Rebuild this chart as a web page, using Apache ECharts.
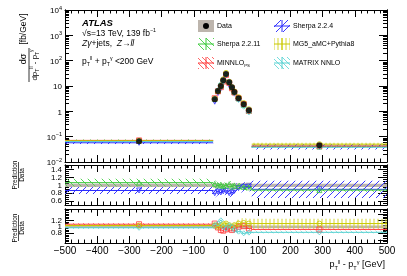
<!DOCTYPE html>
<html><head><meta charset="utf-8">
<script src="https://cdn.jsdelivr.net/npm/echarts@6/dist/echarts.min.js"></script>
<style>html,body{margin:0;padding:0;background:#fff}#c{width:407px;height:276px}</style>
</head><body><div id="c"></div>
<script>
// ---------------- data ----------------
const binEdges   = [-500, -40, -30, -20, -12, -5, 5, 15, 22, 30, 48, 62, 80, 500];
const dataValues = [0.066, 3.0, 6.3, 10, 17, 30, 14, 9.0, 5.8, 3.3, 1.9, 1.1, 0.046];
const dataRelErr = [0.04, 0.06, 0.05, 0.05, 0.05, 0.04, 0.05, 0.05, 0.05, 0.05, 0.06, 0.07, 0.04];

const sherpa224Ratio  = [0.87, 0.80, 0.84, 0.82, 0.85, 0.86, 0.80, 0.82, 0.86, 0.93, 0.96, 0.97, 0.90];
const sherpa224Err    = [0.09, 0.10, 0.10, 0.10, 0.10, 0.10, 0.10, 0.10, 0.10, 0.12, 0.12, 0.12, 0.22];
const sherpa2211Ratio = [1.07, 1.04, 1.00, 1.02, 0.98, 1.00, 1.03, 0.97, 1.00, 0.98, 0.96, 0.95, 0.88];
const sherpa2211Err   = [0.10, 0.08, 0.08, 0.08, 0.08, 0.08, 0.08, 0.08, 0.08, 0.08, 0.08, 0.08, 0.04];
const minnloRatio     = [1.08, 1.10, 0.98, 0.90, 0.88, 0.92, 0.95, 0.90, 0.95, 1.00, 1.02, 0.95, 0.92];
const minnloErr       = [0.03, 0.04, 0.04, 0.04, 0.04, 0.04, 0.04, 0.04, 0.04, 0.04, 0.04, 0.04, 0.03];
const mg5Ratio        = [1.04, 1.05, 1.00, 1.05, 1.08, 1.10, 1.05, 1.00, 1.05, 1.10, 1.12, 1.10, 1.10];
const mg5Err          = [0.03, 0.05, 0.05, 0.05, 0.05, 0.05, 0.05, 0.05, 0.08, 0.12, 0.15, 0.15, 0.15];
const matrixRatio     = [0.97, 1.05, 1.10, 1.20, 1.00, 0.95, 1.05, 1.00, 0.90, 0.85, 0.80, 0.82, 0.83];
const matrixErr       = [0.03, 0.04, 0.04, 0.04, 0.04, 0.04, 0.04, 0.04, 0.04, 0.04, 0.04, 0.04, 0.03];

const xTickLabels     = [-500, -400, -300, -200, -100, 0, 100, 200, 300, 400, 500];
const logTickValues   = [0.01, 0.1, 1, 10, 100, 1000, 10000];
const ratioTickValues = [0.6, 0.8, 1.0, 1.2, 1.4];

// ---------------- styling helpers ----------------
const FONT = 'Liberation Sans, Arial, sans-serif';
function hatch(color, kind, size, lw) {
  const c = document.createElement('canvas'); c.width = size; c.height = size;
  const g = c.getContext('2d'); g.strokeStyle = color; g.lineWidth = lw || 1;
  g.beginPath();
  if (kind === '/') {
    g.moveTo(-1, size + 1); g.lineTo(size + 1, -1);
  } else if (kind === '\\') {
    g.moveTo(-1, -1); g.lineTo(size + 1, size + 1);
  } else if (kind === '|') {
    g.moveTo(size / 2, 0); g.lineTo(size / 2, size);
  }
  g.stroke();
  return { image: c, repeat: 'repeat' };
}
const preds = [
  { name: 'Sherpa 2.2.4', color: '#2b2bff', ratio: sherpa224Ratio, err: sherpa224Err, pat: hatch('#3a3aff', '/', 7, 1), sym: 'triangle', rot: 180, panel: 1 },
  { name: 'Sherpa 2.2.11', color: '#3cc83c', ratio: sherpa2211Ratio, err: sherpa2211Err, pat: hatch('#55d455', '\\', 7, 1), sym: 'triangle', rot: 0, panel: 1 },
  { name: 'MINNLO', color: '#ff3b3b', ratio: minnloRatio, err: minnloErr, pat: hatch('#ff6666', '\\', 5, 1), sym: 'rect', rot: 0, panel: 2 },
  { name: 'MG5_aMC+Pythia8', color: '#c8c800', ratio: mg5Ratio, err: mg5Err, pat: hatch('#d6d630', '|', 4, 1), sym: 'circle', rot: 0, panel: 2 },
  { name: 'MATRIX NNLO', color: '#55d0d0', ratio: matrixRatio, err: matrixErr, pat: hatch('#77dddd', '\\', 5, 1), sym: 'diamond', rot: 0, panel: 2 }
];
const GREY = '#bdb5ad';

// ---------------- axes ----------------
const grids = [
  { left: 65, top: 10, width: 322, height: 152 },
  { left: 65, top: 165, width: 322, height: 40 },
  { left: 65, top: 209, width: 322, height: 34 }
].map(g => Object.assign({ outerBoundsMode: 'none', show: false }, g));

const line = { show: true, onZero: false, lineStyle: { color: '#000', width: 1 } };
function xAx(gi, pos, labels) {
  return {
    type: 'value', gridIndex: gi, position: pos, min: -500, max: 500, interval: 100,
    axisLine: line, splitLine: { show: false },
    axisTick: { show: true, inside: true, length: 7, lineStyle: { color: '#000' } },
    minorTick: { show: true, splitNumber: 5, length: 3.5, lineStyle: { color: '#000' } },
    axisLabel: labels ? { show: true, color: '#000', fontFamily: FONT, fontSize: 10, margin: 3,
      customValues: xTickLabels,
      formatter: v => v < 0 ? '\u2212' + (-v) : String(v) } : { show: false }
  };
}
const minorLog = [];
for (let e = -2; e < 4; e++) for (let m = 2; m <= 9; m++) minorLog.push(+(m * Math.pow(10, e)).toPrecision(3));
const minorRatio = [];
for (let v = 0.5; v <= 1.55; v += 0.05) minorRatio.push(+v.toFixed(2));

function yLog(pos, major, labels) {
  return {
    type: 'log', logBase: 10, gridIndex: 0, position: pos, min: 0.01, max: 10000,
    axisLine: line, splitLine: { show: false }, minorTick: { show: false },
    axisTick: { show: true, inside: true, length: major ? 8 : 4, customValues: major ? logTickValues : minorLog, lineStyle: { color: '#000' } },
    axisLabel: labels ? {
      show: true, customValues: logTickValues, margin: 3, color: '#000', fontFamily: FONT,
      formatter: v => {
        const e = Math.round(Math.log10(v));
        if (e === 0) return '{n|1}';
        if (e === 1) return '{n|10}';
        return '{n|10}{s|' + (e < 0 ? '\u2212' + (-e) : e) + '}';
      },
      rich: { n: { fontSize: 8, fontFamily: FONT, color: '#000', lineHeight: 10, verticalAlign: 'bottom' },
              s: { fontSize: 5.5, fontFamily: FONT, color: '#000', lineHeight: 10, verticalAlign: 'top' } }
    } : { show: false }
  };
}
function yRatio(gi, pos, major, labels, max) {
  return {
    type: 'value', gridIndex: gi, position: pos, min: 0.5, max: max,
    axisLine: line, splitLine: { show: false },
    axisTick: { show: true, inside: true, length: major ? 9 : 4, customValues: major ? ratioTickValues : minorRatio, lineStyle: { color: '#000' } },
    axisLabel: labels ? { show: true, customValues: ratioTickValues, color: '#000', fontFamily: FONT, fontSize: 8, margin: 3,
      formatter: v => String(+v.toFixed(1)) } : { show: false }
  };
}
const xAxis = [xAx(0, 'bottom', false), xAx(0, 'top', false), xAx(1, 'bottom', false), xAx(1, 'top', false), xAx(2, 'bottom', true), xAx(2, 'top', false)];
const yAxis = [
  yLog('left', true, true), yLog('left', false, false), yLog('right', true, false), yLog('right', false, false),
  yRatio(1, 'left', true, true, 1.52), yRatio(1, 'left', false, false, 1.52), yRatio(1, 'right', true, false, 1.52), yRatio(1, 'right', false, false, 1.52),
  yRatio(2, 'left', true, true, 1.55), yRatio(2, 'left', false, false, 1.55), yRatio(2, 'right', true, false, 1.55), yRatio(2, 'right', false, false, 1.55)
];

// ---------------- series ----------------
function bandSeries(xi, yi, fill, stroke, rows, z) {
  return {
    type: 'custom', xAxisIndex: xi, yAxisIndex: yi, clip: true, z: z || 2, silent: true,
    data: rows, encode: { x: [0, 1], y: [2, 3, 4] },
    renderItem(params, api) {
      const x0 = api.value(0), x1 = api.value(1), lo = api.value(2), mid = api.value(3), hi = api.value(4);
      const a = api.coord([x0, hi]), b = api.coord([x1, lo]), m = api.coord([x0, mid]), m2 = api.coord([x1, mid]);
      const ch = [{ type: 'rect', shape: { x: a[0], y: a[1], width: b[0] - a[0], height: b[1] - a[1] }, style: { fill: fill } }];
      if (stroke) ch.push({ type: 'line', shape: { x1: m[0], y1: m[1], x2: m2[0], y2: m2[1] }, style: { stroke: stroke, lineWidth: 1 } });
      return { type: 'group', children: ch };
    }
  };
}
function markerSeries(xi, yi, p, pts) {
  return {
    type: 'scatter', xAxisIndex: xi, yAxisIndex: yi, data: pts, symbol: p.sym, symbolRotate: p.rot, symbolSize: 5,
    itemStyle: { color: 'rgba(0,0,0,0)', borderColor: p.color, borderWidth: 1 }, z: 4, silent: true, clip: true
  };
}
const centers = dataValues.map((_, i) => (binEdges[i] + binEdges[i + 1]) / 2);
const series = [];
// main panel
series.push(bandSeries(0, 0, GREY, null, dataValues.map((d, i) => [binEdges[i], binEdges[i + 1], d * (1 - dataRelErr[i]), d, d * (1 + dataRelErr[i])]), 1));
preds.forEach(p => {
  series.push(bandSeries(0, 0, p.pat, p.color, dataValues.map((d, i) => [binEdges[i], binEdges[i + 1], d * (p.ratio[i] - p.err[i]), d * p.ratio[i], d * (p.ratio[i] + p.err[i])])));
  series.push(markerSeries(0, 0, p, dataValues.map((d, i) => [centers[i], d * p.ratio[i]])));
});
series.push({ type: 'scatter', xAxisIndex: 0, yAxisIndex: 0, data: dataValues.map((d, i) => [centers[i], d]), symbol: 'circle', symbolSize: 6,
  itemStyle: { color: '#000' }, z: 6, silent: true });
// ratio panels
[[1, 2, 4], [2, 4, 8]].forEach(([panel, xi, yi]) => {
  series.push(bandSeries(xi, yi, GREY, null, dataValues.map((d, i) => [binEdges[i], binEdges[i + 1], 1 - dataRelErr[i], 1, 1 + dataRelErr[i]]), 1));
  preds.filter(p => p.panel === panel).forEach(p => {
    series.push(bandSeries(xi, yi, p.pat, p.color, p.ratio.map((r, i) => [binEdges[i], binEdges[i + 1], r - p.err[i], r, r + p.err[i]])));
    series.push(markerSeries(xi, yi, p, p.ratio.map((r, i) => [centers[i], r])));
  });
});

// ---------------- texts, legend ----------------
const rt = { fontFamily: FONT, fill: '#000' };
function rich(size) {
  return {
    n: { fontSize: size, fontFamily: FONT, lineHeight: size + 3, verticalAlign: 'middle' },
    i: { fontSize: size, fontFamily: FONT, fontStyle: 'italic', lineHeight: size + 3, verticalAlign: 'middle' },
    s: { fontSize: size * 0.62, fontFamily: FONT, lineHeight: size + 3, verticalAlign: 'top' },
    b: { fontSize: size * 0.62, fontFamily: FONT, lineHeight: size + 3, verticalAlign: 'bottom' }
  };
}
const graphic = [];
graphic.push({ type: 'text', left: 82, top: 18, style: { text: 'ATLAS', font: 'italic bold 9.5px ' + FONT, fill: '#000' } });
graphic.push({ type: 'text', left: 82, top: 28, style: Object.assign({ text: '{n|\u221As=13 TeV, 139 fb}{s|\u22121}', rich: rich(8.5) }, rt) });
graphic.push({ type: 'text', left: 82, top: 39, style: Object.assign({ text: '{i|Z\u03B3}{n|+jets,  }{i|Z}{n|\u2192}{i|ll}', rich: rich(8.5) }, rt) });
graphic.push({ type: 'text', left: 82, top: 56, style: Object.assign({ text: '{n|p}{b|T}{s|ll}{n| + p}{b|T}{s|\u03B3}{n| <200 GeV}', rich: rich(8.5) }, rt) });

// legend
const legendRows = [
  { x: 198, y: 26, label: '{n|Data}', data: true },
  { x: 198, y: 44, label: '{n|Sherpa 2.2.11}', p: preds[1] },
  { x: 198, y: 63, label: '{n|MINNLO}{b|PS}', p: preds[2] },
  { x: 274, y: 26, label: '{n|Sherpa 2.2.4}', p: preds[0] },
  { x: 274, y: 44, label: '{n|MG5_aMC+Pythia8}', p: preds[3] },
  { x: 274, y: 63, label: '{n|MATRIX NNLO}', p: preds[4] }
];
legendRows.forEach(r => {
  const w = 16, h = 12;
  if (r.data) {
    graphic.push({ type: 'rect', shape: { x: r.x, y: r.y - h / 2, width: w, height: h }, style: { fill: GREY } });
    graphic.push({ type: 'circle', shape: { cx: r.x + w / 2, cy: r.y, r: 3 }, style: { fill: '#000' } });
  } else {
    graphic.push({ type: 'rect', shape: { x: r.x, y: r.y - h / 2, width: w, height: h }, style: { fill: r.p.pat } });
    graphic.push({ type: 'line', shape: { x1: r.x, y1: r.y, x2: r.x + w, y2: r.y }, style: { stroke: r.p.color, lineWidth: 1 } });
    graphic.push({ type: 'line', shape: { x1: r.x + w / 2, y1: r.y - h / 2, x2: r.x + w / 2, y2: r.y + h / 2 }, style: { stroke: r.p.color, lineWidth: 1 } });
  }
  graphic.push({ type: 'text', x: r.x + w + 3, y: r.y, style: Object.assign({ text: r.label, rich: rich(7), verticalAlign: 'middle' }, rt) });
});

// y titles
graphic.push({ type: 'group', x: 29, y: 65, rotation: Math.PI / 2, children: [
  { type: 'text', x: 6, y: -5, style: Object.assign({ text: '{n|d\u03C3}', rich: rich(9), align: 'center', verticalAlign: 'middle' }, rt) },
  { type: 'line', shape: { x1: -17, y1: 0, x2: 17, y2: 0 }, style: { stroke: '#000', lineWidth: 0.8 } },
  { type: 'text', x: 0, y: 6, style: Object.assign({ text: '{n|dp}{b|T}{s|ll}{n| - p}{b|T}{s|\u03B3}', rich: rich(8), align: 'center', verticalAlign: 'middle' }, rt) },
  { type: 'text', x: 36, y: -5, style: Object.assign({ text: '{n|[fb/GeV]}', rich: rich(8.5), align: 'center', verticalAlign: 'middle' }, rt) }
] });
[[175], [228]].forEach(([cy]) => {
  graphic.push({ type: 'group', x: 18.5, y: cy, rotation: Math.PI / 2, children: [
    { type: 'text', x: 0, y: -3.5, style: { text: 'Prediction', font: '6.5px ' + FONT, fill: '#000', align: 'center', verticalAlign: 'middle' } },
    { type: 'line', shape: { x1: -13, y1: 0, x2: 13, y2: 0 }, style: { stroke: '#000', lineWidth: 0.7 } },
    { type: 'text', x: 0, y: 4, style: { text: 'Data', font: '6.5px ' + FONT, fill: '#000', align: 'center', verticalAlign: 'middle' } }
  ] });
});
// x title
graphic.push({ type: 'text', right: 22, top: 259, style: Object.assign({ text: '{n|p}{b|T}{s|ll}{n| - p}{b|T}{s|\u03B3}{n| [GeV]}', rich: rich(9) }, rt) });

const chart = echarts.init(document.getElementById('c'), null, { renderer: 'canvas' });
chart.setOption({ animation: false, backgroundColor: '#fff', grid: grids, xAxis, yAxis, series, graphic });
</script></body></html>
